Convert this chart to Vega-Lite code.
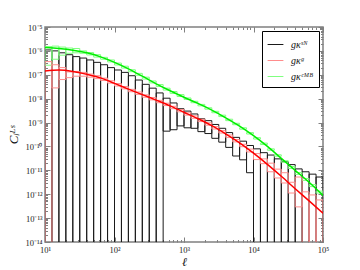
{
  "$schema": "https://vega.github.io/schema/vega-lite/v6.json",
  "width": 278,
  "height": 215,
  "autosize": {"type": "none"},
  "padding": {"left": 45, "top": 27, "right": 37, "bottom": 28},
  "background": "white",
  "config": {
    "view": {"stroke": "#808080", "strokeWidth": 1.5},
    "axis": {"domain": false, "grid": false, "tickColor": "#808080", "tickWidth": 1, "labelFont": "Liberation Serif", "labelFontSize": 8.5, "labelColor": "#222", "titleFont": "Liberation Serif", "titleFontStyle": "italic", "titleFontWeight": "normal", "titleColor": "#111", "labelOverlap": false, "labelBound": false, "labelFlush": false},
    "legend": {"orient": "top-right", "offset": 4, "title": null, "symbolType": "stroke", "symbolSize": 250, "symbolStrokeWidth": 1, "labelFont": "Liberation Serif", "labelFontStyle": "italic", "labelFontSize": 10, "labelColor": "#111", "labelOffset": 7, "strokeColor": "#000", "fillColor": "#fff", "padding": 5, "rowPadding": 2, "cornerRadius": 0}
  },
  "datasets": {
    "sn": [
      {"s": "gκˢᴺ", "l0": 10, "l1": 12.589, "lo": 1e-16, "hi": 1.096e-6},
      {"s": "gκˢᴺ", "l0": 12.589, "l1": 15.849, "lo": 1e-16, "hi": 1.0e-6},
      {"s": "gκˢᴺ", "l0": 15.849, "l1": 19.953, "lo": 1e-16, "hi": 8.318e-7},
      {"s": "gκˢᴺ", "l0": 19.953, "l1": 25.119, "lo": 1e-16, "hi": 6.918e-7},
      {"s": "gκˢᴺ", "l0": 25.119, "l1": 31.623, "lo": 1e-16, "hi": 5.754e-7},
      {"s": "gκˢᴺ", "l0": 31.623, "l1": 39.811, "lo": 1e-16, "hi": 5.012e-7},
      {"s": "gκˢᴺ", "l0": 39.811, "l1": 50.119, "lo": 1e-16, "hi": 4.169e-7},
      {"s": "gκˢᴺ", "l0": 50.119, "l1": 63.096, "lo": 1e-16, "hi": 3.311e-7},
      {"s": "gκˢᴺ", "l0": 63.096, "l1": 79.433, "lo": 1e-16, "hi": 2.630e-7},
      {"s": "gκˢᴺ", "l0": 79.433, "l1": 100, "lo": 1e-16, "hi": 1.995e-7},
      {"s": "gκˢᴺ", "l0": 100, "l1": 125.89, "lo": 1e-16, "hi": 1.585e-7},
      {"s": "gκˢᴺ", "l0": 125.89, "l1": 158.49, "lo": 1e-16, "hi": 1.259e-7},
      {"s": "gκˢᴺ", "l0": 158.49, "l1": 199.53, "lo": 1e-16, "hi": 9.120e-8},
      {"s": "gκˢᴺ", "l0": 199.53, "l1": 251.19, "lo": 1e-16, "hi": 6.026e-8},
      {"s": "gκˢᴺ", "l0": 251.19, "l1": 316.23, "lo": 1e-16, "hi": 3.981e-8},
      {"s": "gκˢᴺ", "l0": 316.23, "l1": 398.11, "lo": 1e-16, "hi": 2.754e-8},
      {"s": "gκˢᴺ", "l0": 398.11, "l1": 501.19, "lo": 1e-16, "hi": 1.738e-8},
      {"s": "gκˢᴺ", "l0": 501.19, "l1": 630.96, "lo": 4.365e-10, "hi": 1.047e-8},
      {"s": "gκˢᴺ", "l0": 630.96, "l1": 794.33, "lo": 5.012e-10, "hi": 6.607e-9},
      {"s": "gκˢᴺ", "l0": 794.33, "l1": 1000, "lo": 7.244e-10, "hi": 3.802e-9},
      {"s": "gκˢᴺ", "l0": 1000, "l1": 1258.9, "lo": 6.026e-10, "hi": 3.020e-9},
      {"s": "gκˢᴺ", "l0": 1258.9, "l1": 1584.9, "lo": 5.754e-10, "hi": 2.291e-9},
      {"s": "gκˢᴺ", "l0": 1584.9, "l1": 1995.3, "lo": 4.169e-10, "hi": 1.445e-9},
      {"s": "gκˢᴺ", "l0": 1995.3, "l1": 2511.9, "lo": 3.467e-10, "hi": 1.202e-9},
      {"s": "gκˢᴺ", "l0": 2511.9, "l1": 3162.3, "lo": 2.188e-10, "hi": 8.318e-10},
      {"s": "gκˢᴺ", "l0": 3162.3, "l1": 3981.1, "lo": 1.514e-10, "hi": 5.754e-10},
      {"s": "gκˢᴺ", "l0": 3981.1, "l1": 5011.9, "lo": 9.120e-11, "hi": 3.802e-10},
      {"s": "gκˢᴺ", "l0": 5011.9, "l1": 6309.6, "lo": 3.981e-11, "hi": 2.399e-10},
      {"s": "gκˢᴺ", "l0": 6309.6, "l1": 7943.3, "lo": 2.754e-11, "hi": 1.660e-10},
      {"s": "gκˢᴺ", "l0": 7943.3, "l1": 10000, "lo": 7.943e-12, "hi": 1.096e-10},
      {"s": "gκˢᴺ", "l0": 10000, "l1": 12589, "lo": 1e-16, "hi": 7.943e-11},
      {"s": "gκˢᴺ", "l0": 12589, "l1": 15849, "lo": 1e-16, "hi": 5.495e-11},
      {"s": "gκˢᴺ", "l0": 15849, "l1": 19953, "lo": 1e-16, "hi": 4.365e-11},
      {"s": "gκˢᴺ", "l0": 19953, "l1": 25119, "lo": 1e-16, "hi": 3.020e-11},
      {"s": "gκˢᴺ", "l0": 25119, "l1": 31623, "lo": 1e-16, "hi": 2.291e-11},
      {"s": "gκˢᴺ", "l0": 31623, "l1": 39811, "lo": 1e-16, "hi": 1.738e-11},
      {"s": "gκˢᴺ", "l0": 39811, "l1": 50119, "lo": 1e-16, "hi": 1.148e-11},
      {"s": "gκˢᴺ", "l0": 50119, "l1": 63096, "lo": 1e-16, "hi": 8.710e-12},
      {"s": "gκˢᴺ", "l0": 63096, "l1": 79433, "lo": 1e-16, "hi": 6.918e-12},
      {"s": "gκˢᴺ", "l0": 79433, "l1": 100000, "lo": 1e-16, "hi": 5.248e-12}
    ],
    "gg": [
      {"s": "gκᵍ", "l0": 10, "l1": 12.589, "lo": 1e-16, "hi": 3.548e-7},
      {"s": "gκᵍ", "l0": 12.589, "l1": 15.849, "lo": 2.818e-8, "hi": 2.630e-7},
      {"s": "gκᵍ", "l0": 15.849, "l1": 19.953, "lo": 6.310e-8, "hi": 1.995e-7},
      {"s": "gκᵍ", "l0": 19.953, "l1": 25.119, "lo": 7.586e-8, "hi": 1.318e-7},
      {"s": "gκᵍ", "l0": 25.119, "l1": 31.623, "lo": 8.710e-8, "hi": 1.380e-7},
      {"s": "gκᵍ", "l0": 31.623, "l1": 39.811, "lo": 8.710e-8, "hi": 1.259e-7},
      {"s": "gκᵍ", "l0": 39.811, "l1": 50.119, "lo": 7.943e-8, "hi": 1.072e-7},
      {"s": "gκᵍ", "l0": 50.119, "l1": 63.096, "lo": 6.918e-8, "hi": 9.120e-8},
      {"s": "gκᵍ", "l0": 63.096, "l1": 79.433, "lo": 5.754e-8, "hi": 7.244e-8},
      {"s": "gκᵍ", "l0": 79.433, "l1": 100, "lo": 4.467e-8, "hi": 5.623e-8},
      {"s": "gκᵍ", "l0": 100, "l1": 125.89, "lo": 3.388e-8, "hi": 4.266e-8},
      {"s": "gκᵍ", "l0": 125.89, "l1": 158.49, "lo": 2.570e-8, "hi": 3.236e-8},
      {"s": "gκᵍ", "l0": 158.49, "l1": 199.53, "lo": 1.950e-8, "hi": 2.455e-8},
      {"s": "gκᵍ", "l0": 199.53, "l1": 251.19, "lo": 1.514e-8, "hi": 1.905e-8},
      {"s": "gκᵍ", "l0": 251.19, "l1": 316.23, "lo": 1.148e-8, "hi": 1.445e-8},
      {"s": "gκᵍ", "l0": 316.23, "l1": 398.11, "lo": 8.913e-9, "hi": 1.122e-8},
      {"s": "gκᵍ", "l0": 398.11, "l1": 501.19, "lo": 6.761e-9, "hi": 8.511e-9},
      {"s": "gκᵍ", "l0": 501.19, "l1": 630.96, "lo": 5.129e-9, "hi": 6.457e-9},
      {"s": "gκᵍ", "l0": 630.96, "l1": 794.33, "lo": 3.802e-9, "hi": 4.786e-9},
      {"s": "gκᵍ", "l0": 794.33, "l1": 1000, "lo": 2.818e-9, "hi": 3.548e-9},
      {"s": "gκᵍ", "l0": 1000, "l1": 1258.9, "lo": 2.042e-9, "hi": 2.570e-9},
      {"s": "gκᵍ", "l0": 1258.9, "l1": 1584.9, "lo": 1.514e-9, "hi": 1.905e-9},
      {"s": "gκᵍ", "l0": 1584.9, "l1": 1995.3, "lo": 1.096e-9, "hi": 1.380e-9},
      {"s": "gκᵍ", "l0": 1995.3, "l1": 2511.9, "lo": 7.762e-10, "hi": 9.772e-10},
      {"s": "gκᵍ", "l0": 2511.9, "l1": 3162.3, "lo": 5.370e-10, "hi": 6.761e-10},
      {"s": "gκᵍ", "l0": 3162.3, "l1": 3981.1, "lo": 3.631e-10, "hi": 4.571e-10},
      {"s": "gκᵍ", "l0": 3981.1, "l1": 5011.9, "lo": 2.399e-10, "hi": 3.020e-10},
      {"s": "gκᵍ", "l0": 5011.9, "l1": 6309.6, "lo": 1.549e-10, "hi": 1.950e-10},
      {"s": "gκᵍ", "l0": 6309.6, "l1": 7943.3, "lo": 9.772e-11, "hi": 1.230e-10},
      {"s": "gκᵍ", "l0": 7943.3, "l1": 10000, "lo": 5.888e-11, "hi": 7.762e-11},
      {"s": "gκᵍ", "l0": 10000, "l1": 12589, "lo": 2.818e-11, "hi": 5.012e-11},
      {"s": "gκᵍ", "l0": 12589, "l1": 15849, "lo": 1.905e-11, "hi": 3.020e-11},
      {"s": "gκᵍ", "l0": 15849, "l1": 19953, "lo": 8.710e-12, "hi": 1.995e-11},
      {"s": "gκᵍ", "l0": 19953, "l1": 25119, "lo": 4.786e-12, "hi": 1.122e-11},
      {"s": "gκᵍ", "l0": 25119, "l1": 31623, "lo": 2.951e-12, "hi": 7.943e-12},
      {"s": "gκᵍ", "l0": 31623, "l1": 39811, "lo": 1.122e-12, "hi": 3.162e-12},
      {"s": "gκᵍ", "l0": 39811, "l1": 50119, "lo": 2.951e-13, "hi": 5.248e-12},
      {"s": "gκᵍ", "l0": 50119, "l1": 63096, "lo": 1e-16, "hi": 1.259e-12},
      {"s": "gκᵍ", "l0": 63096, "l1": 79433, "lo": 1e-16, "hi": 9.333e-13},
      {"s": "gκᵍ", "l0": 79433, "l1": 100000, "lo": 1e-16, "hi": 5.754e-13}
    ],
    "cmb": [
      {"s": "gκᶜᴹᴮ", "l0": 10, "l1": 12.589, "lo": 2.512e-7, "hi": 1.514e-6},
      {"s": "gκᶜᴹᴮ", "l0": 12.589, "l1": 15.849, "lo": 4.467e-7, "hi": 1.585e-6},
      {"s": "gκᶜᴹᴮ", "l0": 15.849, "l1": 19.953, "lo": 6.607e-7, "hi": 1.445e-6},
      {"s": "gκᶜᴹᴮ", "l0": 19.953, "l1": 25.119, "lo": 7.943e-7, "hi": 1.318e-6},
      {"s": "gκᶜᴹᴮ", "l0": 25.119, "l1": 31.623, "lo": 8.318e-7, "hi": 1.259e-6},
      {"s": "gκᶜᴹᴮ", "l0": 31.623, "l1": 39.811, "lo": 7.943e-7, "hi": 1.0e-6},
      {"s": "gκᶜᴹᴮ", "l0": 39.811, "l1": 50.119, "lo": 6.761e-7, "hi": 8.511e-7},
      {"s": "gκᶜᴹᴮ", "l0": 50.119, "l1": 63.096, "lo": 5.495e-7, "hi": 6.918e-7},
      {"s": "gκᶜᴹᴮ", "l0": 63.096, "l1": 79.433, "lo": 4.467e-7, "hi": 5.370e-7},
      {"s": "gκᶜᴹᴮ", "l0": 79.433, "l1": 100, "lo": 3.467e-7, "hi": 4.169e-7},
      {"s": "gκᶜᴹᴮ", "l0": 100, "l1": 125.89, "lo": 2.570e-7, "hi": 3.090e-7},
      {"s": "gκᶜᴹᴮ", "l0": 125.89, "l1": 158.49, "lo": 1.905e-7, "hi": 2.291e-7},
      {"s": "gκᶜᴹᴮ", "l0": 158.49, "l1": 199.53, "lo": 1.349e-7, "hi": 1.622e-7},
      {"s": "gκᶜᴹᴮ", "l0": 199.53, "l1": 251.19, "lo": 9.550e-8, "hi": 1.148e-7},
      {"s": "gκᶜᴹᴮ", "l0": 251.19, "l1": 316.23, "lo": 6.607e-8, "hi": 7.943e-8},
      {"s": "gκᶜᴹᴮ", "l0": 316.23, "l1": 398.11, "lo": 4.571e-8, "hi": 5.495e-8},
      {"s": "gκᶜᴹᴮ", "l0": 398.11, "l1": 501.19, "lo": 3.236e-8, "hi": 3.890e-8},
      {"s": "gκᶜᴹᴮ", "l0": 501.19, "l1": 630.96, "lo": 2.291e-8, "hi": 2.754e-8},
      {"s": "gκᶜᴹᴮ", "l0": 630.96, "l1": 794.33, "lo": 1.660e-8, "hi": 1.995e-8},
      {"s": "gκᶜᴹᴮ", "l0": 794.33, "l1": 1000, "lo": 1.230e-8, "hi": 1.479e-8},
      {"s": "gκᶜᴹᴮ", "l0": 1000, "l1": 1258.9, "lo": 9.333e-9, "hi": 1.072e-8},
      {"s": "gκᶜᴹᴮ", "l0": 1258.9, "l1": 1584.9, "lo": 6.761e-9, "hi": 7.762e-9},
      {"s": "gκᶜᴹᴮ", "l0": 1584.9, "l1": 1995.3, "lo": 5.012e-9, "hi": 5.754e-9},
      {"s": "gκᶜᴹᴮ", "l0": 1995.3, "l1": 2511.9, "lo": 3.631e-9, "hi": 4.169e-9},
      {"s": "gκᶜᴹᴮ", "l0": 2511.9, "l1": 3162.3, "lo": 2.570e-9, "hi": 2.951e-9},
      {"s": "gκᶜᴹᴮ", "l0": 3162.3, "l1": 3981.1, "lo": 1.778e-9, "hi": 2.042e-9},
      {"s": "gκᶜᴹᴮ", "l0": 3981.1, "l1": 5011.9, "lo": 1.202e-9, "hi": 1.380e-9},
      {"s": "gκᶜᴹᴮ", "l0": 5011.9, "l1": 6309.6, "lo": 8.128e-10, "hi": 9.333e-10},
      {"s": "gκᶜᴹᴮ", "l0": 6309.6, "l1": 7943.3, "lo": 5.248e-10, "hi": 6.026e-10},
      {"s": "gκᶜᴹᴮ", "l0": 7943.3, "l1": 10000, "lo": 3.311e-10, "hi": 3.802e-10},
      {"s": "gκᶜᴹᴮ", "l0": 10000, "l1": 12589, "lo": 2.042e-10, "hi": 2.344e-10},
      {"s": "gκᶜᴹᴮ", "l0": 12589, "l1": 15849, "lo": 1.202e-10, "hi": 1.380e-10},
      {"s": "gκᶜᴹᴮ", "l0": 15849, "l1": 19953, "lo": 6.918e-11, "hi": 7.943e-11},
      {"s": "gκᶜᴹᴮ", "l0": 19953, "l1": 25119, "lo": 3.890e-11, "hi": 4.467e-11},
      {"s": "gκᶜᴹᴮ", "l0": 25119, "l1": 31623, "lo": 2.188e-11, "hi": 2.512e-11},
      {"s": "gκᶜᴹᴮ", "l0": 31623, "l1": 39811, "lo": 1.202e-11, "hi": 1.445e-11},
      {"s": "gκᶜᴹᴮ", "l0": 39811, "l1": 50119, "lo": 6.761e-12, "hi": 8.128e-12},
      {"s": "gκᶜᴹᴮ", "l0": 50119, "l1": 63096, "lo": 3.802e-12, "hi": 4.571e-12},
      {"s": "gκᶜᴹᴮ", "l0": 63096, "l1": 79433, "lo": 2.089e-12, "hi": 2.512e-12},
      {"s": "gκᶜᴹᴮ", "l0": 79433, "l1": 100000, "lo": 1.122e-12, "hi": 1.349e-12}
    ],
    "gcurve": [
      {"l": 10, "c": 1.445e-7}, {"l": 15.849, "c": 1.585e-7}, {"l": 25.119, "c": 1.380e-7},
      {"l": 39.811, "c": 1.047e-7}, {"l": 63.096, "c": 7.413e-8}, {"l": 100, "c": 4.365e-8},
      {"l": 158.49, "c": 2.512e-8}, {"l": 251.19, "c": 1.479e-8}, {"l": 398.11, "c": 8.710e-9},
      {"l": 630.96, "c": 5.012e-9}, {"l": 1000, "c": 2.692e-9}, {"l": 1584.9, "c": 1.445e-9},
      {"l": 2511.9, "c": 7.413e-10}, {"l": 3981.1, "c": 3.388e-10}, {"l": 6309.6, "c": 1.413e-10},
      {"l": 10000, "c": 5.248e-11}, {"l": 15849, "c": 1.778e-11}, {"l": 25119, "c": 5.623e-12},
      {"l": 39811, "c": 1.698e-12}, {"l": 63096, "c": 5.248e-13}, {"l": 100000, "c": 1.585e-13}
    ],
    "ccurve": [
      {"l": 10, "c": 1.380e-6}, {"l": 15.849, "c": 1.259e-6}, {"l": 25.119, "c": 1.072e-6},
      {"l": 39.811, "c": 8.318e-7}, {"l": 63.096, "c": 5.623e-7}, {"l": 100, "c": 3.311e-7},
      {"l": 158.49, "c": 1.778e-7}, {"l": 251.19, "c": 8.710e-8}, {"l": 398.11, "c": 4.169e-8},
      {"l": 630.96, "c": 2.138e-8}, {"l": 1000, "c": 1.148e-8}, {"l": 1584.9, "c": 6.310e-9},
      {"l": 2511.9, "c": 3.311e-9}, {"l": 3981.1, "c": 1.585e-9}, {"l": 6309.6, "c": 7.079e-10},
      {"l": 10000, "c": 2.818e-10}, {"l": 15849, "c": 1.0e-10}, {"l": 25119, "c": 3.162e-11},
      {"l": 39811, "c": 1.0e-11}, {"l": 63096, "c": 3.162e-12}, {"l": 100000, "c": 8.913e-13}
    ]
  },
  "resolve": {"axis": {"x": "independent", "y": "independent"}},
  "layer": [
    {
      "data": {"name": "sn"},
      "mark": {"type": "rect", "filled": false, "strokeWidth": 1, "clip": true},
      "encoding": {
        "x": {"field": "l0", "type": "quantitative", "scale": {"type": "log", "domain": [10, 100000]},
              "axis": {"orient": "bottom", "values": [10, 100, 1000, 10000, 100000], "tickSize": -5, "labelPadding": 8, "title": "ℓ", "titleFontSize": 12, "titlePadding": 3,
                       "labelExpr": "'10' + ['⁰','¹','²','³','⁴','⁵','⁶','⁷','⁸','⁹'][round(log(datum.value)/LN10)]"}},
        "x2": {"field": "l1"},
        "y": {"field": "lo", "type": "quantitative", "scale": {"type": "log", "domain": [1e-14, 1e-5]},
              "axis": {"orient": "left", "values": [1e-14, 1e-13, 1e-12, 1e-11, 1e-10, 1e-9, 1e-8, 1e-7, 1e-6, 1e-5], "tickSize": -5, "labelPadding": 8, "title": "Cₗᴸˢ", "titleFontSize": 13, "titlePadding": 4,
                       "labelExpr": "'10⁻' + (round(-log(datum.value)/LN10) >= 10 ? '¹' : '') + ['⁰','¹','²','³','⁴','⁵','⁶','⁷','⁸','⁹'][round(-log(datum.value)/LN10) % 10]"}},
        "y2": {"field": "hi"},
        "color": {"field": "s", "type": "nominal", "scale": {"domain": ["gκˢᴺ", "gκᵍ", "gκᶜᴹᴮ"], "range": ["#1a1a1a", "#ff8c8c", "#80ff80"]}, "legend": {}}
      }
    },
    {
      "data": {"name": "cmb"},
      "mark": {"type": "rect", "filled": false, "strokeWidth": 1, "clip": true},
      "encoding": {
        "x": {"field": "l0", "type": "quantitative", "axis": {"orient": "bottom", "tickCount": 40, "tickSize": -2.5, "labels": false, "title": null}},
        "x2": {"field": "l1"},
        "y": {"field": "lo", "type": "quantitative", "axis": {"orient": "left", "tickCount": 100, "tickSize": -2.5, "labels": false, "title": null}},
        "y2": {"field": "hi"},
        "color": {"field": "s", "type": "nominal"}
      }
    },
    {
      "data": {"name": "gg"},
      "mark": {"type": "rect", "filled": false, "strokeWidth": 1, "clip": true},
      "encoding": {
        "x": {"field": "l0", "type": "quantitative", "axis": {"orient": "top", "values": [10, 100, 1000, 10000, 100000], "tickSize": -5, "labels": false, "title": null}},
        "x2": {"field": "l1"},
        "y": {"field": "lo", "type": "quantitative", "axis": {"orient": "right", "values": [1e-14, 1e-13, 1e-12, 1e-11, 1e-10, 1e-9, 1e-8, 1e-7, 1e-6, 1e-5], "tickSize": -5, "labels": false, "title": null}},
        "y2": {"field": "hi"},
        "color": {"field": "s", "type": "nominal"}
      }
    },
    {
      "data": {"name": "ccurve"},
      "mark": {"type": "line", "color": "#00ee00", "strokeWidth": 1.5, "interpolate": "monotone", "clip": true},
      "encoding": {
        "x": {"field": "l", "type": "quantitative", "axis": {"orient": "top", "tickCount": 40, "tickSize": -2.5, "labels": false, "title": null}},
        "y": {"field": "c", "type": "quantitative", "axis": {"orient": "right", "tickCount": 100, "tickSize": -2.5, "labels": false, "title": null}}
      }
    },
    {
      "data": {"name": "gcurve"},
      "mark": {"type": "line", "color": "#ff0000", "strokeWidth": 1.5, "interpolate": "monotone", "clip": true},
      "encoding": {
        "x": {"field": "l", "type": "quantitative", "axis": null},
        "y": {"field": "c", "type": "quantitative", "axis": null}
      }
    }
  ]
}
